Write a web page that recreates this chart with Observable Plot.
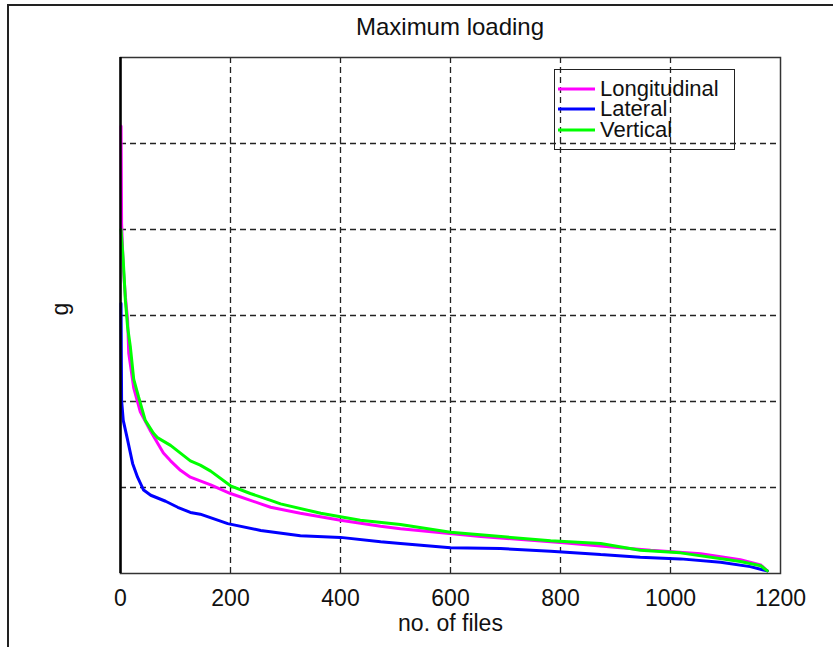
<!DOCTYPE html>
<html>
<head>
<meta charset="utf-8">
<script src="https://cdn.jsdelivr.net/npm/d3@7"></script>
<script src="https://cdn.jsdelivr.net/npm/@observablehq/plot@0.6"></script>
<style>
  html, body { margin: 0; padding: 0; background: #fff; overflow: hidden; }
  #wrap { position: relative; width: 833px; height: 647px; overflow: hidden; font-family: "Liberation Sans", Arial, sans-serif; }
  #outer { position: absolute; left: 7px; top: 4px; width: 1000px; height: 1000px; border-left: 2px solid #222; border-top: 2px solid #222; }
  #title { position: relative; height: 45px; width: 780px; padding-left: 120px; box-sizing: border-box; text-align: center; font-size: 24px; line-height: 24px; padding-top: 15px; color: #111; }
  #title span { display: inline-block; width: 660px; text-align: center; }
  #legend { position: absolute; left: 554px; top: 69px; width: 181px; height: 81px; border: 1.5px solid #222; box-sizing: border-box; }
  .row { position: absolute; left: 0; height: 20px; font-size: 22px; line-height: 20px; color: #111; }
  .row svg { position: absolute; left: 3px; top: 8px; }
  .row span { position: absolute; left: 45px; top: 0; white-space: nowrap; }
  #chart { position: relative; }
</style>
</head>
<body>
<div id="wrap">
  <div id="outer"></div>
  <div id="title"><span>Maximum loading</span></div>
  <div id="chart"></div>
  <div id="legend"></div>
</div>
<script>
// ---- data ----
const seriesNames = ["Longitudinal", "Lateral", "Vertical"];
const seriesColors = ["#ff00ff", "#0000ff", "#00ff00"];

const longX = [1,2,5,9,13,15,24,36,55,78,91,109,127,164,200,255,273,327,400,473,509,655,800,909,964,1055,1127,1164,1176];
const longY = [5.2,4.07,3.56,3.21,2.94,2.56,2.16,1.88,1.65,1.40,1.31,1.20,1.12,1.03,0.93,0.81,0.77,0.70,0.62,0.55,0.52,0.43,0.36,0.30,0.27,0.23,0.16,0.10,0.03];

const latX = [1,2,5,13,22,31,42,55,82,104,127,145,195,255,327,400,473,509,600,691,782,873,945,1018,1091,1145,1176];
const latY = [3.14,2.01,1.78,1.55,1.28,1.12,0.97,0.91,0.84,0.77,0.71,0.69,0.58,0.50,0.44,0.42,0.37,0.35,0.30,0.29,0.26,0.22,0.19,0.17,0.13,0.08,0.03];

const vertX = [1,5,9,13,18,24,33,45,60,67,91,109,127,145,164,200,236,273,291,364,436,509,600,782,873,945,1018,1127,1164,1176];
const vertY = [4.0,3.64,3.17,2.86,2.63,2.26,2.05,1.78,1.63,1.58,1.49,1.40,1.31,1.26,1.19,1.02,0.93,0.85,0.81,0.70,0.62,0.57,0.48,0.38,0.35,0.27,0.24,0.14,0.09,0.03];

const xTicks = [0, 200, 400, 600, 800, 1000, 1200];
const xGrid = [200, 400, 600, 800, 1000];
const yGrid = [1, 2, 3, 4, 5];
const titleText = "Maximum loading";
const xLabel = "no. of files";
const yLabel = "g";

// ---- build table ----
const rows = [];
[[longX, longY], [latX, latY], [vertX, vertY]].forEach(([xs, ys], i) => {
  xs.forEach((x, j) => rows.push({series: seriesNames[i], x, y: ys[j]}));
});

const font = '"Liberation Sans", Arial, sans-serif';
const chart = Plot.plot({
  width: 833,
  height: 602,
  marginLeft: 120,
  marginRight: 53,
  marginTop: 12,
  marginBottom: 74,
  style: {fontFamily: font, fontSize: "23px", color: "#111", background: "transparent", overflow: "visible"},
  x: {domain: [0, 1200]},
  y: {domain: [0, 6]},
  color: {domain: seriesNames, range: seriesColors},
  marks: [
    Plot.gridX(xGrid, {stroke: "#222", strokeOpacity: 1, strokeWidth: 1.3, strokeDasharray: "6,4"}),
    Plot.gridY(yGrid, {stroke: "#222", strokeOpacity: 1, strokeWidth: 1.3, strokeDasharray: "6,4"}),
    Plot.frame({stroke: "#333", strokeWidth: 1.5}),
    Plot.line(rows, {x: "x", y: "y", z: "series", stroke: "series", strokeWidth: 3, strokeLinejoin: "miter"}),
    Plot.ruleX([0], {stroke: "#000", strokeWidth: 2.5}),
    Plot.axisX(xTicks, {tickSize: 0, tickPadding: 16, fontSize: 23, tickFormat: d => String(d), label: null}),
    Plot.axisY(yGrid, {tickSize: 0, tickFormat: () => "", label: null}),
    Plot.text([xLabel], {frameAnchor: "bottom", dy: 57, fontSize: 23, fill: "#111"}),
    Plot.text([yLabel], {frameAnchor: "left", dx: -60, rotate: -90, fontSize: 23, fill: "#111"})
  ]
});
document.getElementById("chart").appendChild(chart);
document.querySelector("#title span").textContent = titleText;

// legend
const legend = document.getElementById("legend");
const rowTops = [9, 29, 50];
seriesNames.forEach((name, i) => {
  const r = document.createElement("div");
  r.className = "row";
  r.style.top = rowTops[i] + "px";
  r.innerHTML = `<svg width="38" height="4"><line x1="0" y1="2" x2="37" y2="2" stroke="${seriesColors[i]}" stroke-width="3"/></svg><span>${name}</span>`;
  legend.appendChild(r);
});
</script>
</body>
</html>
